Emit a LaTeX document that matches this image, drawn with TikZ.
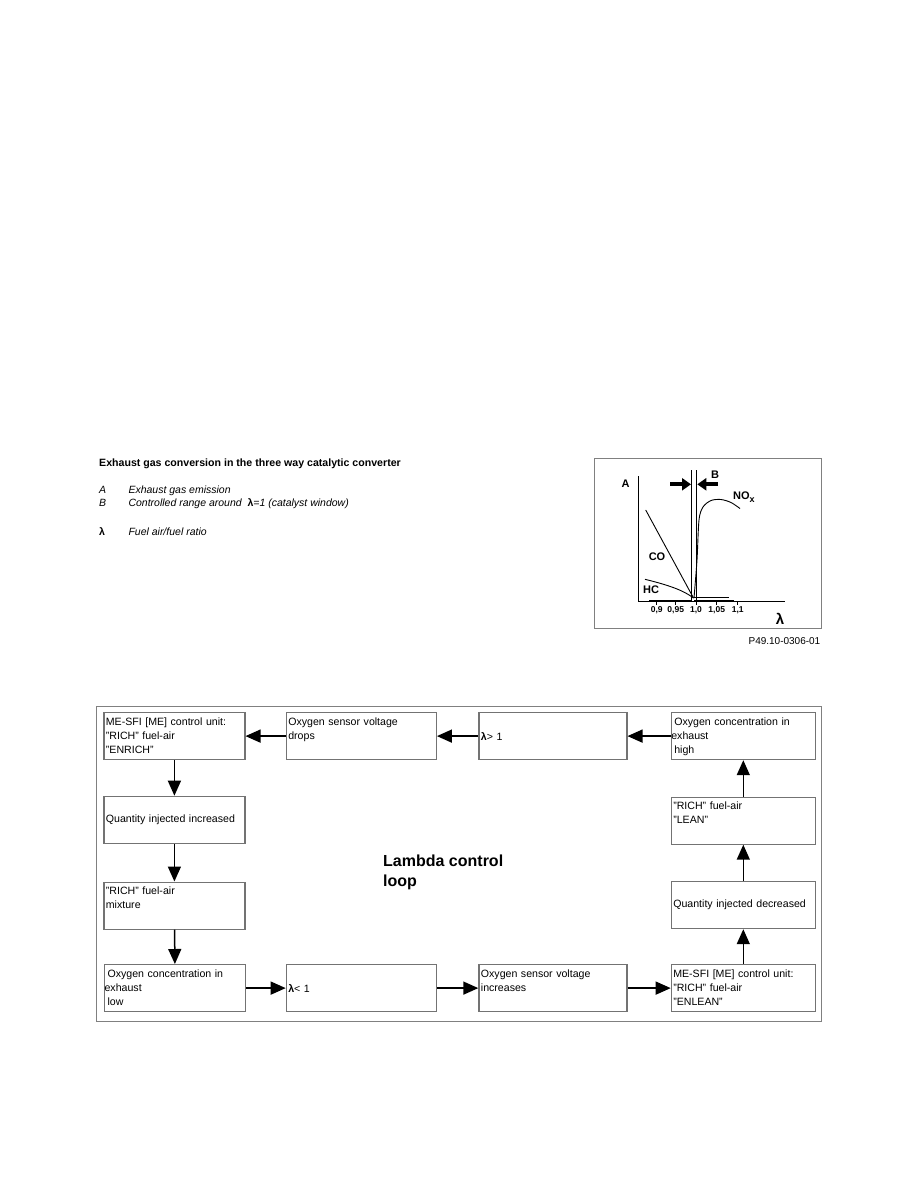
\documentclass[tikz,border=0pt]{standalone}
\usepackage{fontspec}
\setmainfont{Liberation Sans}
\usetikzlibrary{arrows.meta}
\definecolor{framegray}{gray}{0.5}
\definecolor{boxgray}{gray}{0.45}
\newcommand{\toplines}[1]{\parbox[c][41pt][t]{\linewidth}{\strut#1}}

\begin{document}
\begin{tikzpicture}[x=1pt,y=-1pt,font=\fontsize{10.6}{14}\selectfont,
  flowbox/.style={draw=boxgray,line width=1.2pt,anchor=north west,align=left,
    text width=#1,inner xsep=2pt,inner ysep=3pt,minimum height=47pt},
  flowbox/.default=137pt,
  flow/.style={line width=1.5pt,-{Triangle[length=15pt,width=13pt]}},
  plotlbl/.style={font=\fontsize{11}{12}\selectfont\bfseries},
  ticklbl/.style={font=\fontsize{8.5}{9}\selectfont\bfseries}]
\useasboundingbox (0,0) rectangle (918,1188);

\node[anchor=base west,inner sep=0pt,font=\fontsize{10.6}{12}\selectfont\bfseries] (title) at (99,466) {Exhaust gas conversion in the three way catalytic converter};
\node[anchor=base west,inner sep=0pt,font=\fontsize{10.5}{12}\selectfont\itshape] (keyA) at (99,493) {A};
\node[anchor=base west,inner sep=0pt,font=\fontsize{10.5}{12}\selectfont\itshape] (txtA) at (128.3,493) {Exhaust gas emission};
\node[anchor=base west,inner sep=0pt,font=\fontsize{10.5}{12}\selectfont\itshape] (keyB) at (99,506.5) {B};
\node[anchor=base west,inner sep=0pt,font=\fontsize{10.5}{12}\selectfont\itshape] (txtB) at (128.3,506.5) {Controlled range around\ \ \textbf{\upshape λ}=1 (catalyst window)};
\node[anchor=base west,inner sep=0pt,font=\fontsize{10.5}{12}\selectfont\bfseries] (keyL) at (99,535) {λ};
\node[anchor=base west,inner sep=0pt,font=\fontsize{10.5}{12}\selectfont\itshape] (txtL) at (128.3,535) {Fuel air/fuel ratio};

\coordinate (o) at (638.5,601.7); \coordinate (ytop) at (638.5,476); \coordinate (xend) at (785,601.7);
\draw[framegray,line width=1.3pt] (594.5,458.5) rectangle (821.5,628.5);
\draw[line width=1.2pt] (ytop) -- (o) -- (xend);
\draw[line width=2.2pt] (649,601) -- (692,601);
\draw[line width=0.9pt] (691.7,470) -- (691.7,601.7) (696.7,470) -- (696.7,601.7);
\draw[line width=3.8pt,-{Triangle[length=9pt,width=12pt]}] (670,484.3) -- (691,484.3);
\draw[line width=3.8pt,-{Triangle[length=9pt,width=12pt]}] (718,484.3) -- (697.3,484.3);
\draw[line width=0.9pt] (645.7,510) -- (693.5,598);
\draw[line width=0.9pt] (645,579.3) .. controls (668,585) and (683,590) .. (693.5,598);
\draw[line width=0.9pt] plot[smooth] coordinates {(694,598) (697,560) (699,520) (703,507) (711,500.5) (721,499.5) (731,502.5) (740,508.5)};
\draw[line width=0.8pt] (693.5,597.7) -- (728.5,597.7) (694,600) -- (733.5,600);
\foreach \x/\t in {656.7/{0,9},675.7/{0,95},696/{1,0},716.7/{1,05},737.7/{1,1}}
  \draw[line width=0.8pt] (\x,601.7) -- (\x,605) node[ticklbl,below,inner sep=1.5pt] {\t};
\node[plotlbl] (lblA) at (625.7,483.3) {A};
\node[plotlbl] (lblB) at (715,475) {B};
\node[plotlbl,anchor=west,inner sep=0pt] (lblN) at (733,497) {NO\raisebox{-2.5pt}{\fontsize{9}{9}\selectfont x}};
\node[plotlbl] (lblCO) at (657,557) {CO};
\node[plotlbl] (lblHC) at (651,590) {HC};
\node[font=\fontsize{15}{15}\selectfont\bfseries] (lblL) at (780,619) {λ};
\node[anchor=east,inner sep=0pt,font=\fontsize{10}{12}\selectfont] (code) at (820.5,641) {P49.10-0306-01};

\draw[framegray,line width=1pt] (96,706) rectangle (821.7,1021.7);
\node[anchor=north west,inner sep=0pt,align=left,font=\fontsize{16}{20}\selectfont\bfseries] (loop) at (383,855) {Lambda control\\loop};

\node[flowbox] (enrich) at (103.3,712) {\toplines{ME-SFI [ME] control unit:\\"RICH" fuel-air\\"ENRICH"}};
\node[flowbox=146pt] (drops) at (285.7,712) {\toplines{Oxygen sensor voltage\\drops}};
\node[flowbox=144pt] (lgt) at (478.3,712) {\textbf{λ}> 1};
\node[flowbox=140pt] (high) at (670.7,712) {\toplines{\hspace*{1pt}Oxygen concentration in\\\hspace*{-2pt}exhaust\\\hspace*{1pt}high}};
\node[flowbox] (incr) at (103.3,795.7) {Quantity injected increased};
\node[flowbox] (mix) at (103.3,881.5) {\toplines{"RICH" fuel-air\\mixture}};
\node[flowbox] (low) at (104,964) {\toplines{\hspace*{1pt}Oxygen concentration in\\\hspace*{-2pt}exhaust\\\hspace*{1pt}low}};
\node[flowbox=146pt] (llt) at (285.7,964) {\textbf{λ}< 1};
\node[flowbox=144pt] (rises) at (478.3,964) {\toplines{Oxygen sensor voltage\\increases}};
\node[flowbox=140pt] (enlean) at (670.7,964) {\toplines{ME-SFI [ME] control unit:\\"RICH" fuel-air\\"ENLEAN"}};
\node[flowbox=140pt] (decr) at (670.7,881) {Quantity injected decreased};
\node[flowbox=140pt] (lean) at (670.7,796.5) {\toplines{"RICH" fuel-air\\"LEAN"}};

\draw[flow] (drops) -- (enrich);
\draw[flow] (lgt) -- (drops);
\draw[flow] (high) -- (lgt);
\draw[flow] (enrich) -- (incr);
\draw[flow] (incr) -- (mix);
\draw[flow] (mix) -- (low);
\draw[flow] (low) -- (llt);
\draw[flow] (llt) -- (rises);
\draw[flow] (rises) -- (enlean);
\draw[flow] (enlean) -- (decr);
\draw[flow] (decr) -- (lean);
\draw[flow] (lean) -- (high);
\end{tikzpicture}
\end{document}
